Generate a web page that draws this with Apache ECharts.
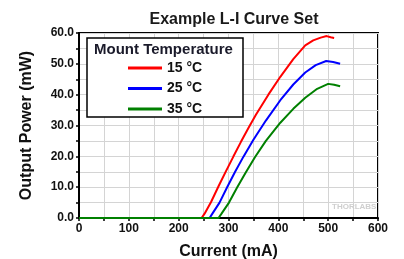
<!DOCTYPE html>
<html>
<head>
<meta charset="utf-8">
<script src="https://cdn.jsdelivr.net/npm/echarts@6/dist/echarts.min.js"></script>
<style>
  html, body { margin: 0; padding: 0; background: #fff; }
  #chart { width: 404px; height: 259px; }
</style>
</head>
<body>
<div id="chart"></div>
<script>
// 各温度的 L-I 曲线（电流 mA, 功率 mW）
var seriesNames = ['15 °C', '25 °C', '35 °C'];
var seriesColors = ['#ff0000', '#0000ff', '#008000'];

var curve15 = [[0, 0], [246, 0], [252, 1.4], [265, 5.2], [280, 10.3], [295, 15.2], [310, 20.0], [325, 24.7],
  [340, 29.2], [355, 33.5], [380, 40.0], [404, 45.8], [430, 51.5], [454, 56.0], [470, 57.6], [485, 58.5],
  [497, 59.0], [505, 58.6], [512, 58.4]];
var curve25 = [[0, 0], [262, 0], [268, 1.5], [282, 5.0], [297, 9.9], [313, 14.9], [330, 19.9], [350, 25.4],
  [375, 31.6], [404, 38.2], [430, 43.3], [454, 47.2], [475, 49.6], [496, 50.9], [510, 50.6], [524, 50.0]];
var curve35 = [[0, 0], [280, 0], [286, 1.4], [301, 5.0], [317, 9.8], [334, 14.6], [353, 19.7], [375, 25.0],
  [404, 30.9], [430, 35.4], [454, 39.0], [478, 41.9], [500, 43.5], [512, 43.2], [524, 42.7]];
var curves = [curve15, curve25, curve35];

var chart = echarts.init(document.getElementById('chart'));

var boldFont = 'Liberation Sans, Arial, sans-serif';

var option = {
  animation: false,
  title: {
    text: 'Example L-I Curve Set',
    left: 229,
    textAlign: 'center',
    top: 7,
    textStyle: { fontFamily: boldFont, fontSize: 16, fontWeight: 'bold', color: '#1a1a1a' }
  },
  grid: {
    left: 79, right: 26, top: 33, bottom: 41,
    outerBoundsMode: 'none',
    show: true, borderColor: '#000', borderWidth: 2, backgroundColor: 'transparent'
  },
  legend: {
    orient: 'vertical',
    left: 123,
    top: 56,
    icon: 'rect',
    itemWidth: 34,
    itemHeight: 3,
    itemGap: 6.5,
    z: 5,
    data: seriesNames,
    textStyle: { fontFamily: boldFont, fontSize: 14, fontWeight: 'bold', color: '#111', lineHeight: 14 }
  },
  graphic: [
    { // 图例边框
      type: 'rect', z: 3,
      shape: { x: 87, y: 38, width: 156, height: 79 },
      style: { fill: '#fff', stroke: '#000', lineWidth: 1.5 }
    },
    {
      type: 'text', z: 6, left: 94, top: 42,
      style: { text: 'Mount Temperature', font: 'bold 15px ' + boldFont, fill: '#1a1a2a' }
    },
    { // 水印
      type: 'text', z: 1, left: 332, top: 203,
      style: { text: 'THORLABS', font: 'bold 8px ' + boldFont, fill: '#cfcfcf' }
    }
  ],
  xAxis: {
    type: 'value',
    min: 0, max: 600, interval: 50,
    name: 'Current (mA)',
    nameLocation: 'middle',
    nameGap: 26,
    nameTextStyle: { fontFamily: boldFont, fontSize: 16, fontWeight: 'bold', color: '#111' },
    axisLine: { show: true, lineStyle: { color: '#000', width: 2 } },
    axisTick: { show: true, inside: false, length: 3, lineStyle: { color: '#000', width: 1.5 } },
    axisLabel: {
      fontFamily: boldFont, fontSize: 12, fontWeight: 'bold', color: '#111', margin: 5,
      formatter: function (v) { return v % 100 === 0 ? String(v) : ''; }
    },
    splitLine: { show: true, lineStyle: { color: '#d4d4d4', width: 1 } }
  },
  yAxis: {
    type: 'value',
    min: 0, max: 60, interval: 5,
    name: 'Output Power (mW)',
    nameLocation: 'middle',
    nameGap: 44,
    nameTextStyle: { fontFamily: boldFont, fontSize: 16, fontWeight: 'bold', color: '#111' },
    axisLine: { show: true, lineStyle: { color: '#000', width: 2 } },
    axisTick: { show: true, inside: false, length: 3, lineStyle: { color: '#000', width: 1.5 } },
    axisLabel: {
      fontFamily: boldFont, fontSize: 12, fontWeight: 'bold', color: '#111', margin: 5,
      formatter: function (v) { return v % 10 === 0 ? v.toFixed(1) : ''; }
    },
    splitLine: { show: true, lineStyle: { color: '#d4d4d4', width: 1 } }
  },
  series: []
};

for (var i = 0; i < curves.length; i++) {
  option.series.push({
    name: seriesNames[i],
    type: 'line',
    data: curves[i],
    showSymbol: false,
    smooth: false,
    color: seriesColors[i],
    lineStyle: { width: 2, color: seriesColors[i] }
  });
}

chart.setOption(option);
</script>
</body>
</html>
